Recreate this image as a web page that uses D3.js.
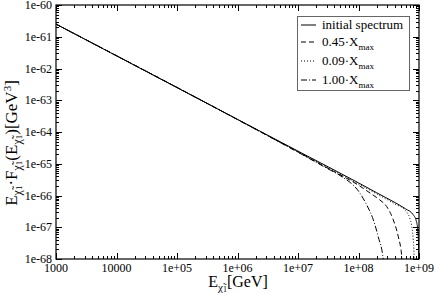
<!DOCTYPE html>
<html>
<head>
<meta charset="utf-8" />
<style>
body { margin:0; background:#fff; }
text { font-family: "Liberation Serif", "DejaVu Serif", serif; fill:#000; }
</style>
</head>
<body>
<svg id="chart" width="436" height="294" xmlns="http://www.w3.org/2000/svg"></svg>
<script src="https://cdn.jsdelivr.net/npm/d3@7/dist/d3.min.js"></script>
<script>

// data (energy in GeV, E*F in GeV^3)
var xTicks = [1e3, 1e4, 1e5, 1e6, 1e7, 1e8, 1e9];
var xTickLabels = ["1000", "10000", "1e+05", "1e+06", "1e+07", "1e+08", "1e+09"];
var yTicks = [1e-60, 1e-61, 1e-62, 1e-63, 1e-64, 1e-65, 1e-66, 1e-67, 1e-68];
var yTickLabels = ["1e-60", "1e-61", "1e-62", "1e-63", "1e-64", "1e-65", "1e-66", "1e-67", "1e-68"];

var legendNames = ["initial spectrum", "0.45", "0.09", "1.00"];

var eInitial = [1e3, 1e6, 1e7, 1e8, 2e8, 4e8, 6e8, 8e8, 9e8, 9.5e8, 9.8e8, 9.95e8];
var fInitial = [2.5e-61, 2.5e-64, 2.5e-65, 2.5e-66, 1.22e-66, 6.0e-67, 3.8e-67, 2.5e-67, 1.6e-67, 9.0e-68, 3.5e-68, 1e-69];

var e045 = [1e3, 1e6, 1e7, 3e7, 1e8, 1.6e8, 2.26e8, 2.92e8, 3.76e8, 4.55e8, 5.18e8, 5.4e8];
var f045 = [2.5e-61, 2.47e-64, 2.35e-65, 7.5e-66, 2.1e-66, 1.15e-66, 7.2e-67, 4.5e-67, 1.7e-67, 5.0e-68, 1.2e-68, 1e-69];

var e009 = [1e3, 1e6, 1e7, 3e7, 1e8, 2e8, 4e8, 6e8, 7e8, 7.5e8, 8e8, 8.3e8, 8.5e8];
var f009 = [2.5e-61, 2.49e-64, 2.42e-65, 7.9e-66, 2.3e-66, 1.12e-66, 5.4e-67, 3.3e-67, 2.0e-67, 1.2e-67, 4.5e-68, 1.2e-68, 1e-69];

var e100 = [1e3, 1e6, 1e7, 3e7, 5e7, 1.06e8, 1.37e8, 1.76e8, 2.12e8, 2.57e8, 2.7e8];
var f100 = [2.5e-61, 2.46e-64, 2.3e-65, 7.2e-66, 4.2e-66, 1.17e-66, 5.0e-67, 1.7e-67, 5.0e-68, 9.3e-69, 1e-69];

var pLeft = 56, pRight = 419, pTop = 5, pBottom = 259;

var svg = d3.select("#chart");

var x = d3.scaleLog().domain([1e3, 1e9]).range([pLeft, pRight]);
var y = d3.scaleLog().domain([1e-68, 1e-60]).range([pBottom, pTop]);

svg.append("defs").append("clipPath").attr("id", "plotclip")
	.append("rect")
	.attr("x", pLeft).attr("y", pTop)
	.attr("width", pRight - pLeft).attr("height", pBottom - pTop);

// minor + major ticks, inside, on all four sides
var xMinor = [], yMinor = [];
for (var d = 3; d < 9; d++)
	for (var k = 2; k <= 9; k++) xMinor.push(k * Math.pow(10, d));
for (var d = -68; d < -60; d++)
	for (var k = 2; k <= 9; k++) yMinor.push(k * Math.pow(10, d));

var axes = svg.append("g");

axes.append("g").attr("transform", "translate(0," + pBottom + ")")
	.call(d3.axisTop(x).tickValues(xMinor).tickSize(3).tickFormat(""));
axes.append("g").attr("transform", "translate(0," + pBottom + ")")
	.call(d3.axisTop(x).tickValues(xTicks).tickSize(6).tickFormat(""));
axes.append("g").attr("transform", "translate(0," + pTop + ")")
	.call(d3.axisBottom(x).tickValues(xMinor).tickSize(3).tickFormat(""));
axes.append("g").attr("transform", "translate(0," + pTop + ")")
	.call(d3.axisBottom(x).tickValues(xTicks).tickSize(6).tickFormat(""));

axes.append("g").attr("transform", "translate(" + pLeft + ",0)")
	.call(d3.axisRight(y).tickValues(yMinor).tickSize(3).tickFormat(""));
axes.append("g").attr("transform", "translate(" + pLeft + ",0)")
	.call(d3.axisRight(y).tickValues(yTicks).tickSize(6).tickFormat(""));
axes.append("g").attr("transform", "translate(" + pRight + ",0)")
	.call(d3.axisLeft(y).tickValues(yMinor).tickSize(3).tickFormat(""));
axes.append("g").attr("transform", "translate(" + pRight + ",0)")
	.call(d3.axisLeft(y).tickValues(yTicks).tickSize(6).tickFormat(""));

axes.selectAll(".domain").remove();
axes.selectAll("line").attr("stroke", "#000").attr("shape-rendering", "crispEdges");

svg.append("rect")
	.attr("x", pLeft).attr("y", pTop)
	.attr("width", pRight - pLeft).attr("height", pBottom - pTop)
	.attr("fill", "none").attr("stroke", "#000").attr("stroke-width", 1.2);

// tick labels
svg.append("g").selectAll("text").data(xTicks).enter().append("text")
	.attr("x", function(d) { return x(d); })
	.attr("y", 272)
	.attr("text-anchor", "middle")
	.attr("font-size", 12)
	.text(function(d, i) { return xTickLabels[i]; });

svg.append("g").selectAll("text").data(yTicks).enter().append("text")
	.attr("x", 52)
	.attr("y", function(d) { return y(d) + 4; })
	.attr("text-anchor", "end")
	.attr("font-size", 12)
	.text(function(d, i) { return yTickLabels[i]; });

// axis titles
var xt = svg.append("text").attr("x", 238).attr("y", 287)
	.attr("text-anchor", "middle").attr("font-size", 16);
xt.append("tspan").text("E");
xt.append("tspan").attr("font-size", 11).attr("dy", 4).text("χ̃");
xt.append("tspan").attr("font-size", 8).attr("dy", 1).text("1");
xt.append("tspan").attr("dy", -5).text("[GeV]");

var yt = svg.append("text").attr("transform", "translate(17,143) rotate(-90)")
	.attr("text-anchor", "middle").attr("font-size", 17);
yt.append("tspan").text("E");
yt.append("tspan").attr("font-size", 12).attr("dy", 4).text("χ̃");
yt.append("tspan").attr("font-size", 9).attr("dy", 1).text("1");
yt.append("tspan").attr("dy", -5).text("·F");
yt.append("tspan").attr("font-size", 12).attr("dy", 4).text("χ̃");
yt.append("tspan").attr("font-size", 9).attr("dy", 1).text("1");
yt.append("tspan").attr("dy", -5).text("(E");
yt.append("tspan").attr("font-size", 12).attr("dy", 4).text("χ̃");
yt.append("tspan").attr("font-size", 9).attr("dy", 1).text("1");
yt.append("tspan").attr("dy", -5).text(")[GeV");
yt.append("tspan").attr("font-size", 11).attr("dy", -6).text("3");
yt.append("tspan").attr("dy", 6).text("]");

// curves
var line = d3.line()
	.x(function(d) { return x(d[0]); })
	.y(function(d) { return y(d[1]); })
	.curve(d3.curveMonotoneX);

var series = [
	{e: eInitial, f: fInitial, dash: null},
	{e: e045, f: f045, dash: "5,3"},
	{e: e009, f: f009, dash: "1,2"},
	{e: e100, f: f100, dash: "6,2,1,2"}
];

var plot = svg.append("g").attr("clip-path", "url(#plotclip)");
series.forEach(function(s) {
	plot.append("path")
		.attr("d", line(d3.zip(s.e, s.f)))
		.attr("fill", "none")
		.attr("stroke", "#000")
		.attr("stroke-width", 1)
		.attr("stroke-dasharray", s.dash);
});

// legend
var lg = svg.append("g");
lg.append("rect")
	.attr("x", 297.5).attr("y", 16.5).attr("width", 112).attr("height", 74)
	.attr("fill", "#fff").attr("stroke", "#666").attr("stroke-width", 1);

var rowY = [25, 42, 61, 80];
series.forEach(function(s, i) {
	lg.append("line")
		.attr("x1", 301).attr("x2", 316)
		.attr("y1", rowY[i]).attr("y2", rowY[i])
		.attr("stroke", "#000").attr("stroke-width", 1)
		.attr("stroke-dasharray", s.dash);
	var t = lg.append("text").attr("x", 322).attr("y", rowY[i] + 4).attr("font-size", 13);
	if (i == 0) {
		t.text(legendNames[i]);
	} else {
		t.append("tspan").text(legendNames[i] + "·X");
		t.append("tspan").attr("font-size", 9).attr("dy", 4).text("max");
	}
});

</script>
</body>
</html>
